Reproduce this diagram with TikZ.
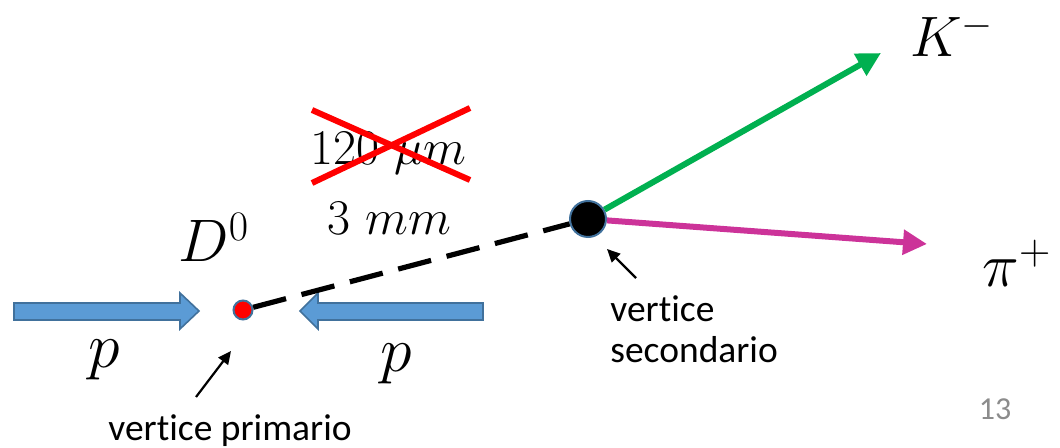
\RequirePackage{fix-cm}
\documentclass[tikz,border=0pt]{standalone}
\usepackage{fontspec}
\newfontfamily\calib[Ligatures={NoCommon}]{Carlito}
\usetikzlibrary{arrows.meta}
\definecolor{beamfill}{HTML}{5B9BD5}
\definecolor{beamedge}{HTML}{41719C}
\definecolor{kgreen}{HTML}{00B050}
\definecolor{pimag}{HTML}{CC3399}
\definecolor{crossred}{HTML}{FF0000}
\definecolor{pagegray}{HTML}{8C8C8C}
\tikzset{
  beam/.style={fill=beamfill,draw=beamedge,line width=0.8pt,line join=miter},
  vtx/.style={circle,draw=beamedge,line width=1pt,inner sep=0pt},
  track/.style={line width=3pt,-{Triangle[length=12pt,width=12pt]}},
  pointer/.style={line width=1.1pt,-{Triangle[length=6.5pt,width=6pt]}},
  sanslbl/.style={font=\calib\fontsize{18.75}{20.5}\selectfont,inner sep=0pt},
  mlbl/.style={inner sep=0pt,anchor=base west},
}
\newcommand\msz[1]{\fontsize{#1}{#1}\selectfont}
\begin{document}
\begin{tikzpicture}[x=0.5pt,y=-0.5pt]
\useasboundingbox (0,0) rectangle (1060,448);
% beams
\draw[beam] (14,303) -- (180,303) -- (180,293) -- (199,311) -- (180,329) -- (180,320) -- (14,320) -- cycle;
\draw[beam] (483,303) -- (318,303) -- (318,293) -- (300,311) -- (318,329) -- (318,320) -- (483,320) -- cycle;
% vertices
\node[vtx,fill=red,minimum size=9.5pt] (prim) at (243,310) {};
\node[vtx,fill=black,minimum size=18pt] (sec) at (588,219) {};
% decay length
\draw[line width=2.6pt,dash pattern=on 17pt off 8pt] (prim) -- (sec);
% tracks
\coordinate (ktip) at (881,53);
\coordinate (pitip) at (927,244);
\draw[track,kgreen] (sec) -- (ktip);
\draw[track,pimag] (sec) -- (pitip);
% labels
\node[mlbl] (K) at (910,57) {\msz{28.5}$K^-$};
\node[mlbl] (pi) at (982,287) {\msz{31}$\pi^+$};
\node[mlbl] (D) at (178,262) {\msz{30}$D^0$};
\node[mlbl] (pL) at (88,368) {\msz{32}$p$};
\node[mlbl] (pR) at (380,372) {\msz{32}$p$};
\node[mlbl] (old) at (310,165) {\msz{25}$120\ \mu m$};
\node[mlbl] (new) at (327,235) {\msz{25}$3\ mm$};
% cross
\draw[crossred,line width=3pt] (312,110) -- (470,180);
\draw[crossred,line width=3pt] (312,183) -- (470,108);
% vertex annotations
\node[sanslbl,anchor=base] (primtxt) at (230,441) {vertice primario};
\node[sanslbl,anchor=base west] (sectxt1) at (610,322) {vertice};
\node[sanslbl,anchor=base west] (sectxt2) at (610,363) {secondario};
\coordinate (pa) at (196,397);
\coordinate (pb) at (231,351);
\coordinate (sa) at (636,278);
\coordinate (sb) at (607,249);
\draw[pointer] (pa) -- (pb);
\draw[pointer] (sa) -- (sb);
% page number
\node[sanslbl,font=\calib\fontsize{16}{18}\selectfont,text=pagegray,anchor=base] (page) at (995,420) {13};
\end{tikzpicture}
\end{document}
